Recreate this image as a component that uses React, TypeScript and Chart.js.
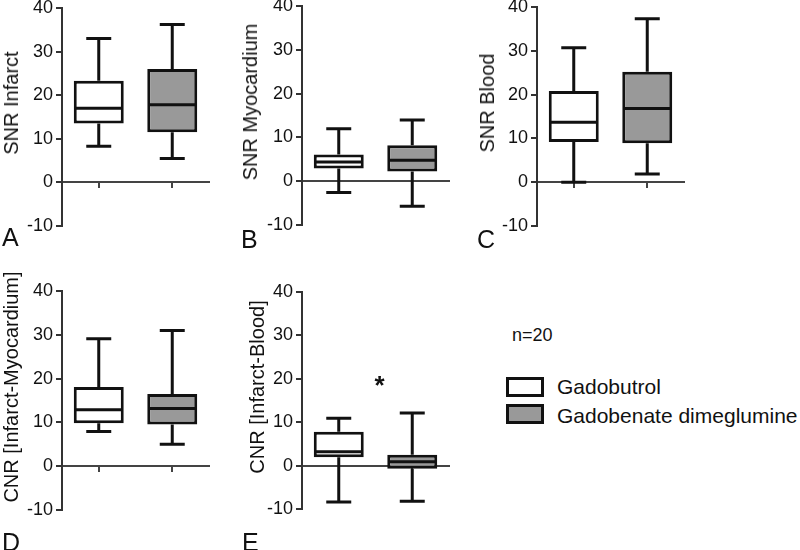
import React, { useEffect, useRef } from 'react';
import { Chart, registerables } from 'chart.js';

Chart.register(...registerables);

const FONT = '"Liberation Sans", Arial, Helvetica, sans-serif';

// ---------- data ----------
const groups = ['Gadobutrol', 'Gadobenate dimeglumine'];
const groupColors = ['#ffffff', '#999999'];
const yTickValues = [-10, 0, 10, 20, 30, 40];

// five-number summaries: [min, q1, median, q3, max]
const snrInfarctGadobutrol = [8.3, 13.5, 17.0, 23.3, 33.0];
const snrInfarctGadobenate = [5.5, 11.5, 17.8, 26.0, 36.2];
const snrMyocardiumGadobutrol = [-2.6, 2.9, 4.4, 6.1, 12.0];
const snrMyocardiumGadobenate = [-5.7, 2.2, 4.8, 8.2, 14.0];
const snrBloodGadobutrol = [0.0, 9.2, 13.7, 20.8, 30.7];
const snrBloodGadobenate = [1.9, 8.9, 16.8, 25.2, 37.3];
const cnrInfMyoGadobutrol = [7.9, 9.8, 12.9, 18.1, 29.1];
const cnrInfMyoGadobenate = [5.0, 9.5, 13.2, 16.5, 31.0];
const cnrInfBloodGadobutrol = [-8.4, 1.9, 3.2, 7.8, 10.9];
const cnrInfBloodGadobenate = [-8.2, -0.7, 0.9, 2.5, 12.1];

const panelTitles = [
  'SNR Infarct',
  'SNR Myocardium',
  'SNR Blood',
  'CNR [Infarct-Myocardium]',
  'CNR [Infarct-Blood]',
];
const panelLetters = ['A', 'B', 'C', 'D', 'E'];
const panelSignificant = [false, false, false, false, true];
const sampleSizeLabel = 'n=20';

const panelStats = [
  [snrInfarctGadobutrol, snrInfarctGadobenate],
  [snrMyocardiumGadobutrol, snrMyocardiumGadobenate],
  [snrBloodGadobutrol, snrBloodGadobenate],
  [cnrInfMyoGadobutrol, cnrInfMyoGadobenate],
  [cnrInfBloodGadobutrol, cnrInfBloodGadobenate],
];

// ---------- layout (pixels) ----------
const panelGeom = [
  { titleX: 11, axisX: 62, right: 209, top: 8, bottom: 226 },
  { titleX: 250, axisX: 302, right: 449, top: 6, bottom: 225 },
  { titleX: 487, axisX: 537, right: 684, top: 7, bottom: 226 },
  { titleX: 11, axisX: 62, right: 209, top: 291, bottom: 510 },
  { titleX: 257, axisX: 302, right: 449, top: 292, bottom: 509 },
];
const TITLE_SHIFT = -14;
const letterPos = [
  { left: 2, top: 225 },
  { left: 241, top: 227 },
  { left: 477, top: 227 },
  { left: 2, top: 530 },
  { left: 242, top: 530 },
];

const PAD_TOP = 14;
const PAD_BOTTOM = 14;
const PAD_RIGHT = 4;
const CANVAS_LEFT_GAP = 50;

function makeBoxPlugin(stats: number[][], star: boolean) {
  return {
    id: 'boxWhiskers',
    afterDatasetsDraw(chart: any) {
      const ctx = chart.ctx;
      const yScale = chart.scales.y;
      const xScale = chart.scales.x;
      const meta = chart.getDatasetMeta(0);
      const py = (v: number) => yScale.getPixelForValue(v);
      ctx.save();
      ctx.strokeStyle = '#111';
      ctx.lineWidth = 3;
      ctx.lineCap = 'butt';
      meta.data.forEach((el: any, i: number) => {
        const [mn, q1, md, q3, mx] = stats[i];
        const { x, width } = el.getProps(['x', 'width'], true);
        const half = width / 2;
        const cap = width * 0.25;
        ctx.beginPath();
        ctx.moveTo(x, py(q3));
        ctx.lineTo(x, py(mx));
        ctx.moveTo(x - cap, py(mx));
        ctx.lineTo(x + cap, py(mx));
        ctx.moveTo(x, py(q1));
        ctx.lineTo(x, py(mn));
        ctx.moveTo(x - cap, py(mn));
        ctx.lineTo(x + cap, py(mn));
        ctx.moveTo(x - half + 2, py(md));
        ctx.lineTo(x + half - 2, py(md));
        ctx.stroke();
      });
      if (star) {
        const mid = (xScale.getPixelForValue(0) + xScale.getPixelForValue(1)) / 2 + 4;
        const size = 26;
        ctx.fillStyle = '#111';
        ctx.font = `bold ${size}px ${FONT}`;
        ctx.textAlign = 'center';
        ctx.textBaseline = 'alphabetic';
        ctx.fillText('*', mid, py(20) + size * 0.57);
      }
      ctx.restore();
    },
  };
}

function BoxPanel({ idx }: { idx: number }) {
  const ref = useRef<HTMLCanvasElement>(null);
  const g = panelGeom[idx];
  const canvasLeft = g.axisX - CANVAS_LEFT_GAP;
  const canvasTop = g.top - PAD_TOP;
  const w = g.right - canvasLeft + PAD_RIGHT;
  const h = g.bottom - g.top + PAD_TOP + PAD_BOTTOM;

  useEffect(() => {
    if (!ref.current) return;
    const stats = panelStats[idx];
    const chart = new Chart(ref.current, {
      type: 'bar',
      data: {
        labels: groups,
        datasets: [
          {
            data: stats.map((s) => [s[1], s[3]]),
            backgroundColor: groupColors,
            borderColor: '#111',
            borderWidth: 3,
            borderSkipped: false,
            barPercentage: 0.68,
            categoryPercentage: 1,
          } as any,
        ],
      },
      options: {
        responsive: false,
        animation: false,
        devicePixelRatio: 1,
        layout: { padding: { top: PAD_TOP, bottom: PAD_BOTTOM, left: 0, right: PAD_RIGHT } },
        plugins: {
          legend: { display: false },
          tooltip: { enabled: false },
        },
        scales: {
          x: {
            type: 'category',
            position: { y: 0 } as any,
            offset: true,
            grid: {
              display: true,
              drawOnChartArea: false,
              drawTicks: true,
              tickLength: 5,
              offset: false,
              color: '#444',
              lineWidth: 2,
            },
            border: { display: true, color: '#444', width: 2 },
            ticks: { display: false },
          },
          y: {
            type: 'linear',
            min: yTickValues[0],
            max: yTickValues[yTickValues.length - 1],
            afterBuildTicks: (s: any) => {
              s.ticks = yTickValues.map((v) => ({ value: v }));
            },
            afterFit: (s: any) => {
              s.width = CANVAS_LEFT_GAP;
            },
            grid: {
              drawOnChartArea: false,
              drawTicks: true,
              tickLength: 6,
              color: '#333',
              lineWidth: 2,
            },
            border: { display: true, color: '#333', width: 2 },
            ticks: {
              color: '#111',
              font: { family: FONT, size: 18 },
              padding: 3,
            },
            title: { display: false },
          },
        },
      } as any,
      plugins: [makeBoxPlugin(stats, panelSignificant[idx])],
    });
    return () => chart.destroy();
  }, [idx]);

  return (
    <>
      <canvas
        ref={ref}
        width={w}
        height={h}
        style={{ position: 'absolute', left: canvasLeft, top: canvasTop, width: w, height: h }}
      />
      <div
        style={{
          position: 'absolute',
          left: g.titleX,
          top: (g.top + g.bottom) / 2 + TITLE_SHIFT,
          transform: 'translate(-50%, -50%) rotate(-90deg)',
          fontSize: 20,
          lineHeight: '24px',
          whiteSpace: 'nowrap',
        }}
      >
        {panelTitles[idx]}
      </div>
    </>
  );
}

export default function App() {
  return (
    <div
      style={{
        position: 'absolute',
        left: 0,
        top: 0,
        width: 800,
        height: 550,
        overflow: 'hidden',
        background: '#ffffff',
        fontFamily: FONT,
        color: '#111',
      }}
    >
      {panelTitles.map((_, i) => (
        <BoxPanel key={i} idx={i} />
      ))}
      {panelLetters.map((l, i) => (
        <div
          key={l}
          style={{
            position: 'absolute',
            left: letterPos[i].left,
            top: letterPos[i].top,
            fontSize: 25,
            lineHeight: '25px',
          }}
        >
          {l}
        </div>
      ))}
      <div style={{ position: 'absolute', left: 512, top: 326, fontSize: 18, lineHeight: '18px' }}>
        {sampleSizeLabel}
      </div>
      {groups.map((gName, i) => (
        <React.Fragment key={gName}>
          <div
            style={{
              position: 'absolute',
              left: 506,
              top: 377 + i * 27,
              width: 38,
              height: 20,
              boxSizing: 'border-box',
              border: '3px solid #111',
              background: groupColors[i],
            }}
          />
          <div
            style={{
              position: 'absolute',
              left: 557,
              top: 376 + i * 29,
              fontSize: 21,
              lineHeight: '21px',
              whiteSpace: 'nowrap',
            }}
          >
            {gName}
          </div>
        </React.Fragment>
      ))}
    </div>
  );
}
